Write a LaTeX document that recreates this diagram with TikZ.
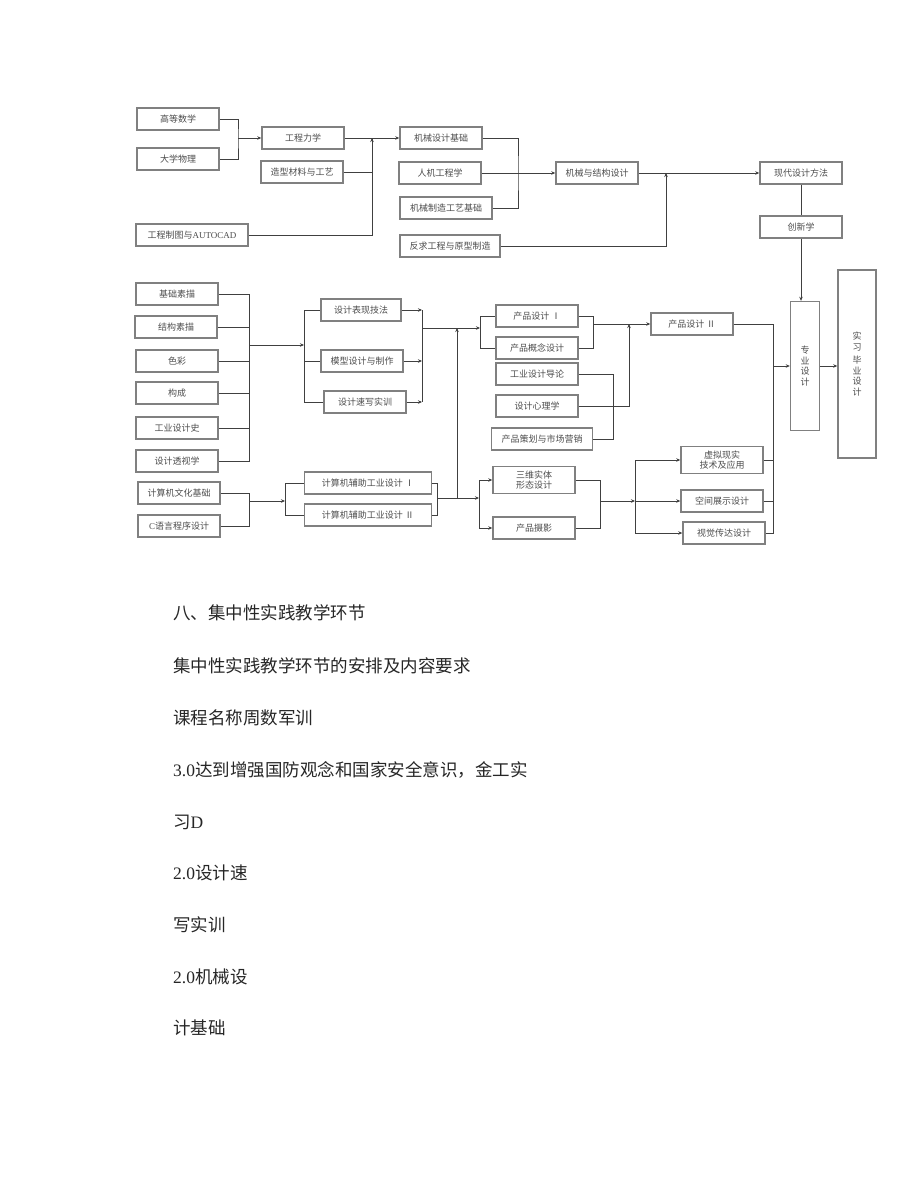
\documentclass[tikz,border=0pt]{standalone}
\usepackage{fontspec}
\setmainfont{Noto Sans CJK SC}
\newfontfamily\lat{Liberation Serif}
\usetikzlibrary{arrows.meta}
\begin{document}
\begin{tikzpicture}[x=1pt, y=-1pt,
    course/.style={draw=black!50, line width=1.4pt, minimum width=82, minimum height=22,
        inner sep=0pt, text=black!70, align=center, font=\fontsize{9}{10.5}\selectfont},
    link/.style={draw=black!75, line width=0.9pt},
    arr/.style={link, -{Stealth[length=4pt, width=3.5pt]}},
    body/.style={anchor=west, inner sep=0pt, text=black!85, font=\fontsize{17.5}{20}\selectfont}]
        \useasboundingbox (0,0) rectangle (920,1191);

        \node[course] (gdsx) at (178,119) {高等数学};
        \node[course] (dxwl) at (178,159) {大学物理};
        \node[course] (gclx) at (303,138) {工程力学};
        \node[course] (zxcl) at (302,172) {造型材料与工艺};
        \node[course, minimum width=112] (gczt) at (192,235) {工程制图与{\lat AUTOCAD}};
        \node[course] (jxsj) at (441,138) {机械设计基础};
        \node[course] (rjgc) at (440,173) {人机工程学};
        \node[course, minimum width=92] (jxzz) at (446,208) {机械制造工艺基础};
        \node[course, minimum width=100] (fqgc) at (450,246) {反求工程与原型制造};
        \node[course] (jxjg) at (597,173) {机械与结构设计};
        \node[course] (xdsj) at (801,173) {现代设计方法};
        \node[course] (cxx) at (801,227) {创新学};
        \node[course, minimum width=29, minimum height=129] (zysj) at (805,366) {专\\业\\设\\计};
        \node[course, minimum width=38, minimum height=188] (sxby) at (857,364) {实\\习\\[3pt]毕\\业\\设\\计};

        \coordinate (b1) at (238,138);
        \coordinate (b2) at (372,138);
        \coordinate (b3) at (518,173);
        \coordinate (b4) at (666,173);
        \draw[link] (gdsx.east) -| (b1) |- (dxwl.east);
        \draw[arr] (b1) -- (gclx.west);
        \draw[arr] (gclx.east) -- (jxsj.west);
        \draw[link] (zxcl.east) -| (b2);
        \draw[arr] (gczt.east) -| (b2);
        \draw[link] (jxsj.east) -| (b3) |- (jxzz.east);
        \draw[arr] (rjgc.east) -- (jxjg.west);
        \draw[arr] (jxjg.east) -- (xdsj.west);
        \draw[arr] (fqgc.east) -| (b4);
        \draw[link] (xdsj) -- (cxx);
        \draw[arr] (cxx.south) -- (cxx.south |- zysj.north);

        \node[course] (jcsm) at (177,294) {基础素描};
        \node[course] (jgsm) at (176,327) {结构素描};
        \node[course] (sc) at (177,361) {色彩};
        \node[course] (gc) at (177,393) {构成};
        \node[course] (gysjs) at (177,428) {工业设计史};
        \node[course] (sjtsx) at (177,461) {设计透视学};
        \node[course, minimum width=80] (sjbx) at (361,310) {设计表现技法};
        \node[course] (mxsj) at (362,361) {模型设计与制作};
        \node[course] (sjsx) at (365,402) {设计速写实训};
        \node[course] (cpsj1) at (537,316) {产品设计{\lat\ }Ⅰ};
        \node[course] (cpgn) at (537,348) {产品概念设计};
        \node[course] (gysjdl) at (537,374) {工业设计导论};
        \node[course] (sjxlx) at (537,406) {设计心理学};
        \node[course, minimum width=101] (cpch) at (542,439) {产品策划与市场营销};
        \node[course] (cpsj2) at (692,324) {产品设计{\lat\ }Ⅱ};

        \coordinate (b5) at (249,345);
        \coordinate (b6) at (304,345);
        \coordinate (b7) at (422,328);
        \coordinate (b8) at (480,328);
        \coordinate (b10) at (457,498);
        \coordinate (b11) at (593,324);
        \coordinate (b12) at (613,406);
        \coordinate (b13) at (629,324);
        \coordinate (b14) at (773,366);
        \foreach \n in {jcsm,jgsm,sc,gc,gysjs,sjtsx}
            \draw[link] (\n.east) -| (b5);
        \draw[arr] (b5) -- (b6);
        \foreach \n in {sjbx,mxsj,sjsx} {
            \draw[link] (b6) |- (\n.west);
            \draw[arr] (\n.east) -- (\n.east -| b7);
        }
        \draw[link] (sjbx.east -| b7) -- (sjsx.east -| b7);
        \draw[arr] (b7) -- (b8);
        \draw[arr] (b10) -- (b10 |- b7);
        \draw[link] (b8) |- (cpsj1.west);
        \draw[link] (b8) |- (cpgn.west);
        \draw[link] (cpsj1.east) -| (b11);
        \draw[link] (cpgn.east) -| (b11);
        \draw[arr] (b11) -- (cpsj2.west);
        \draw[link] (gysjdl.east) -| (b12);
        \draw[link] (cpch.east) -| (b12);
        \draw[arr] (sjxlx.east) -| (b13);
        \draw[link] (cpsj2.east) -| (b14);
        \draw[arr] (b14) -- (zysj.west);
        \draw[arr] (zysj.east) -- (zysj.east -| sxby.west);

        \node[course] (jsjwh) at (179,493) {计算机文化基础};
        \node[course] (cyy) at (179,526) {{\lat C}语言程序设计};
        \node[course, minimum width=127] (jsjfz1) at (368,483) {计算机辅助工业设计{\lat\ }Ⅰ};
        \node[course, minimum width=127] (jsjfz2) at (368,515) {计算机辅助工业设计{\lat\ }Ⅱ};
        \node[course, minimum height=27] (swst) at (534,480) {三维实体\\形态设计};
        \node[course] (cpsy) at (534,528) {产品摄影};
        \node[course, minimum height=27] (xnxs) at (722,460) {虚拟现实\\技术及应用};
        \node[course] (kjzs) at (722,501) {空间展示设计};
        \node[course] (sjcd) at (724,533) {视觉传达设计};

        \coordinate (b15) at (249,501);
        \coordinate (b16) at (285,501);
        \coordinate (b17) at (437,498);
        \coordinate (b18) at (479,498);
        \coordinate (b19) at (600,501);
        \coordinate (b20) at (635,501);
        \draw[link] (jsjwh.east) -| (b15);
        \draw[link] (cyy.east) -| (b15);
        \draw[arr] (b15) -- (b16);
        \draw[link] (b16) |- (jsjfz1.west);
        \draw[link] (b16) |- (jsjfz2.west);
        \draw[link] (jsjfz1.east) -| (b17);
        \draw[link] (jsjfz2.east) -| (b17);
        \draw[arr] (b17) -- (b18);
        \draw[arr] (b18) |- (swst.west);
        \draw[arr] (b18) |- (cpsy.west);
        \draw[link] (swst.east) -| (b19);
        \draw[link] (cpsy.east) -| (b19);
        \draw[arr] (b19) -- (b20);
        \foreach \n in {xnxs,kjzs,sjcd} {
            \draw[arr] (b20) |- (\n.west);
            \draw[link] (\n.east) -| (b14);
        }

        \node[body] (t1) at (173,613) {八、集中性实践教学环节};
        \node[body] (t2) at (173,666) {集中性实践教学环节的安排及内容要求};
        \node[body] (t3) at (173,718) {课程名称周数军训};
        \node[body] (t4) at (173,770) {{\lat 3.0}达到增强国防观念和国家安全意识，金工实};
        \node[body] (t5) at (173,822) {习{\lat D}};
        \node[body] (t6) at (173,873) {{\lat 2.0}设计速};
        \node[body] (t7) at (173,925) {写实训};
        \node[body] (t8) at (173,977) {{\lat 2.0}机械设};
        \node[body] (t9) at (173,1028) {计基础};
    \end{tikzpicture}
\end{document}
